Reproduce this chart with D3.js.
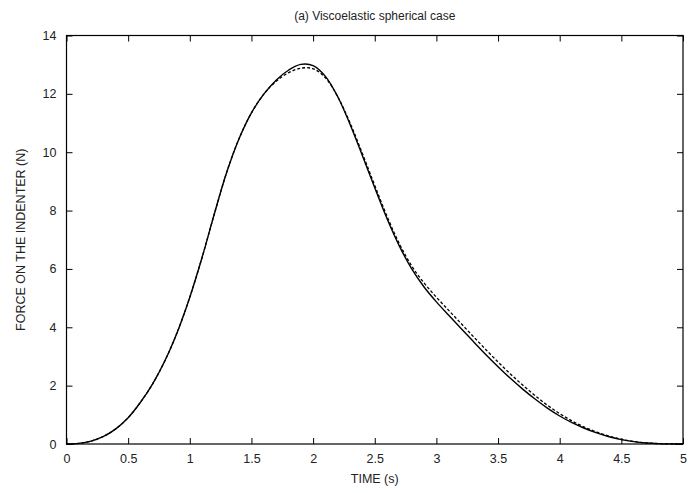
<!DOCTYPE html>
<html><head><meta charset="utf-8">
<script src="https://cdn.jsdelivr.net/npm/d3@7"></script>
<style>
body{margin:0;background:#fff;}
svg{display:block;font-family:"Liberation Sans",Arial,Helvetica,sans-serif;}
</style></head>
<body><svg id="c" width="688" height="493"></svg>
<script>
const time = [0,0.1,0.2,0.3,0.4,0.5,0.6,0.7,0.8,0.9,1.0,1.1,1.2,1.3,1.4,1.5,1.6,1.7,1.8,1.9,2.0,2.1,2.2,2.3,2.4,2.5,2.6,2.7,2.8,2.9,3.0,3.1,3.2,3.3,3.4,3.5,3.6,3.7,3.8,3.9,4.0,4.1,4.2,4.3,4.4,4.5,4.6,4.7,4.8,4.9,5.0];
const forceSolid = [0,0.02,0.10,0.26,0.52,0.90,1.43,2.07,2.87,3.85,5.03,6.40,7.90,9.32,10.47,11.35,11.99,12.47,12.81,13.01,12.97,12.60,11.90,10.95,9.88,8.78,7.72,6.78,6.00,5.38,4.87,4.41,3.96,3.51,3.07,2.65,2.25,1.88,1.54,1.23,0.96,0.73,0.54,0.38,0.25,0.15,0.08,0.035,0.012,0.003,0];
const forceDashed = [0,0.02,0.10,0.26,0.52,0.90,1.43,2.07,2.87,3.85,5.03,6.40,7.90,9.32,10.47,11.35,11.99,12.43,12.72,12.88,12.86,12.55,11.90,11.00,9.95,8.86,7.80,6.86,6.10,5.52,5.03,4.58,4.13,3.68,3.24,2.81,2.40,2.02,1.66,1.33,1.04,0.79,0.58,0.41,0.27,0.16,0.085,0.037,0.012,0.003,0];
const xTicks = [0,0.5,1,1.5,2,2.5,3,3.5,4,4.5,5];
const yTicks = [0,2,4,6,8,10,12,14];
const title = "(a) Viscoelastic spherical case";
const xLabel = "TIME (s)";
const yLabel = "FORCE ON THE INDENTER (N)";

const L = 66.5, R = 683, T = 35.5, B = 444;
const svg = d3.select("#c");
const x = d3.scaleLinear().domain([0,5]).range([L,R]);
const y = d3.scaleLinear().domain([0,14]).range([B,T]);
const fs = 12.5;

function styleAxis(g){
  g.selectAll("path.domain").remove();
  g.selectAll("line").attr("stroke","#000").attr("stroke-width",1);
  g.selectAll("text").attr("font-size",fs).attr("fill","#222").attr("font-family","Liberation Sans, Arial, sans-serif");
}
const fmt = d => String(d);
svg.append("g").attr("transform",`translate(0,${B})`)
  .call(d3.axisBottom(x).tickValues(xTicks).tickFormat(fmt).tickSizeInner(-6).tickSizeOuter(0).tickPadding(10)).call(styleAxis);
svg.append("g").attr("transform",`translate(0,${T})`)
  .call(d3.axisTop(x).tickValues(xTicks).tickFormat("").tickSizeInner(-6).tickSizeOuter(0)).call(styleAxis);
svg.append("g").attr("transform",`translate(${L},0)`)
  .call(d3.axisLeft(y).tickValues(yTicks).tickFormat(fmt).tickSizeInner(-6).tickSizeOuter(0).tickPadding(10)).call(styleAxis);
svg.append("g").attr("transform",`translate(${R},0)`)
  .call(d3.axisRight(y).tickValues(yTicks).tickFormat("").tickSizeInner(-6).tickSizeOuter(0)).call(styleAxis);

svg.append("rect").attr("x",L).attr("y",T).attr("width",R-L).attr("height",B-T)
  .attr("fill","none").attr("stroke","#000").attr("stroke-width",1.2);

const line = d3.line().x((d,i)=>x(time[i])).y(d=>y(Math.max(0,d))).curve(d3.curveCatmullRom.alpha(0.5));
svg.append("path").datum(forceDashed).attr("d",line).attr("fill","none")
  .attr("stroke","#000").attr("stroke-width",1.3).attr("stroke-dasharray","3,2");
svg.append("path").datum(forceSolid).attr("d",line).attr("fill","none")
  .attr("stroke","#000").attr("stroke-width",1.4);

svg.append("text").attr("x",(L+R)/2).attr("y",20).attr("text-anchor","middle")
  .attr("font-size",12).attr("fill","#222").text(title);
svg.append("text").attr("x",(L+R)/2).attr("y",483).attr("text-anchor","middle")
  .attr("font-size",fs).attr("fill","#222").text(xLabel);
svg.append("text").attr("transform",`translate(25,${(T+B)/2}) rotate(-90)`).attr("text-anchor","middle")
  .attr("font-size",fs).attr("fill","#222").text(yLabel);
</script></body></html>
